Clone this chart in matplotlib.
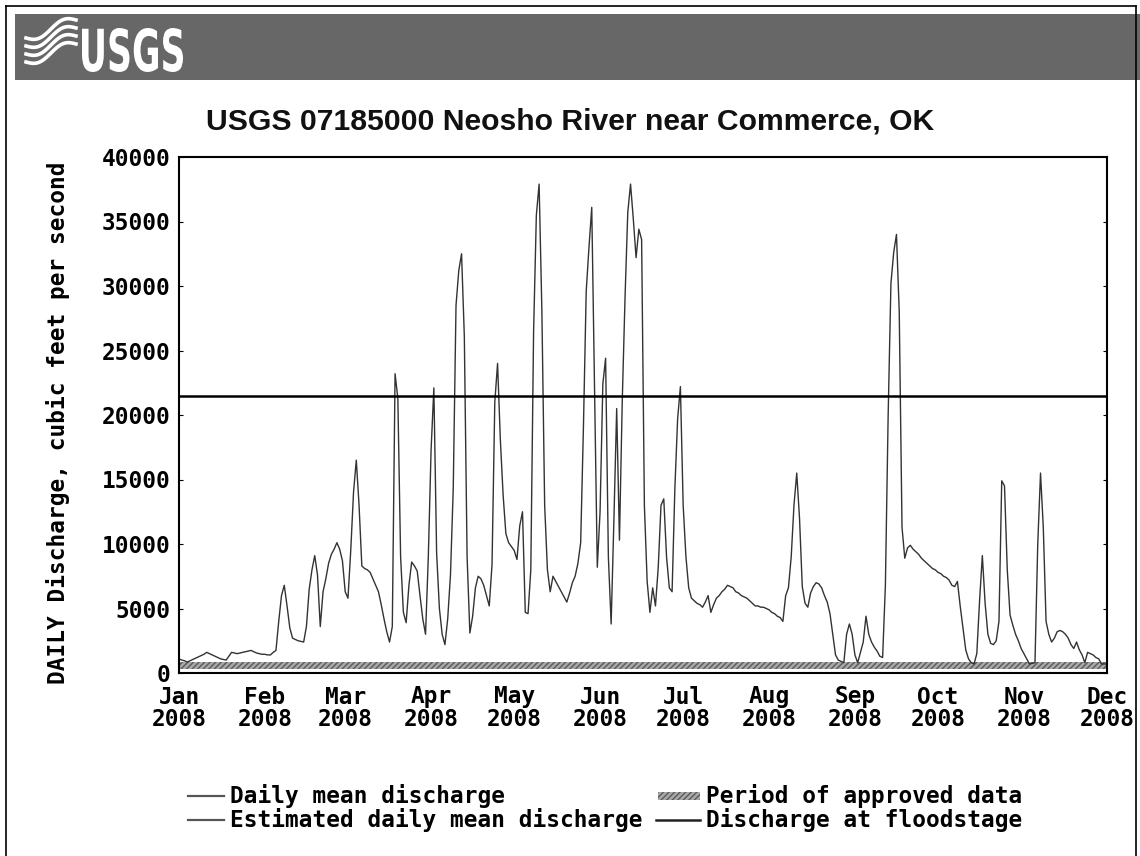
import matplotlib
matplotlib.use('Agg')
import matplotlib.pyplot as plt
import numpy as np
import pandas as pd
from matplotlib.lines import Line2D
from matplotlib.patches import Rectangle, PathPatch
from matplotlib.textpath import TextPath
from matplotlib.font_manager import FontProperties
from matplotlib.transforms import Affine2D

# daily mean discharge, cfs, 2008-01-01 .. 2008-12-01
jan = [1100, 1000, 950, 850, 950, 1050, 1150, 1250, 1350, 1450, 1600, 1500, 1400, 1300, 1200,
       1100, 1050, 1000, 1300, 1600, 1550, 1500, 1550, 1600, 1650, 1700, 1750, 1650, 1550, 1500, 1450]
feb = [1450, 1400, 1400, 1600, 1750, 4000, 6000, 6800, 5200, 3500, 2700, 2600, 2500, 2450, 2400,
       3600, 6500, 8000, 9100, 7600, 3600, 6300, 7300, 8500, 9200, 9600, 10100, 9600, 8700]
mar = [6300, 5800, 9500, 14000, 16500, 13000, 8300, 8100, 8000, 7800, 7300, 6800, 6300, 5300, 4200,
       3200, 2400, 3600, 23200, 21300, 9000, 4700, 3900, 6800, 8600, 8300, 7900, 6000, 4200, 3000, 9000]
apr = [17300, 22100, 9300, 5000, 3000, 2200, 4200, 7600, 14300, 28500, 31200, 32500, 26100, 9000, 3100,
       4400, 6600, 7500, 7300, 6800, 6000, 5200, 8400, 21000, 24000, 18100, 13800, 10800, 10100, 9800]
may = [9500, 8800, 11400, 12500, 4700, 4600, 8000, 26400, 35500, 37900, 28000, 13000, 8000, 6300, 7500,
       7100, 6700, 6300, 5900, 5500, 6200, 7000, 7500, 8500, 10100, 19100, 29600, 33000, 36100, 22400, 8200]
jun = [12500, 22400, 24400, 9000, 3800, 11900, 20500, 10300, 21000, 29000, 35700, 37900, 35200, 32200, 34400,
       33600, 13000, 7100, 4700, 6600, 5200, 8200, 13000, 13500, 9000, 6600, 6300, 14300, 19700, 22200]
jul = [13000, 9000, 6600, 5800, 5600, 5400, 5300, 5100, 5500, 6000, 4700, 5300, 5800, 6000, 6300,
       6500, 6800, 6700, 6600, 6300, 6200, 6000, 5900, 5800, 5600, 5400, 5200, 5200, 5100, 5100, 5000]
aug = [4900, 4700, 4600, 4400, 4300, 4000, 6000, 6600, 9000, 13000, 15500, 12000, 6700, 5400, 5100,
       6200, 6700, 7000, 6900, 6600, 6000, 5500, 4600, 3000, 1400, 1000, 900, 800, 3000, 3800, 3000]
sep = [1400, 800, 1600, 2400, 4400, 3000, 2400, 2000, 1700, 1300, 1200, 6800, 20000, 30200, 32600,
       34000, 28000, 11300, 8900, 9700, 9900, 9600, 9400, 9200, 8900, 8700, 8500, 8300, 8100, 8000]
oct_ = [7800, 7700, 7500, 7400, 7200, 6800, 6700, 7100, 5200, 3500, 1800, 1100, 800, 700, 1500,
        5600, 9100, 5400, 3000, 2300, 2200, 2500, 4000, 14900, 14500, 8000, 4500, 3700, 3000, 2500, 1900]
nov = [1500, 1100, 700, 750, 800, 10000, 15500, 11300, 4000, 3000, 2400, 2700, 3200, 3300, 3200,
       3000, 2700, 2200, 1900, 2400, 1800, 1400, 800, 1600, 1500, 1400, 1200, 1100, 700, 700]
dec = [700]

discharge = jan + feb + mar + apr + may + jun + jul + aug + sep + oct_ + nov + dec
dates = pd.date_range('2008-01-01', periods=len(discharge), freq='D')

floodstage = 21500
approved_start = '2008-01-01'
approved_end = '2008-12-01'
approved_lo, approved_hi = 300, 850

month_ticks = pd.date_range('2008-01-01', '2008-12-01', freq='MS')
tick_labels = [d.strftime('%b') + '\n' + d.strftime('%Y') for d in month_ticks]
y_ticks = [0, 5000, 10000, 15000, 20000, 25000, 30000, 35000, 40000]

title = 'USGS 07185000 Neosho River near Commerce, OK'
ylabel = 'DAILY Discharge, cubic feet per second'
legend_left = ['Daily mean discharge', 'Estimated daily mean discharge']
legend_right = ['Period of approved data', 'Discharge at floodstage']

W, H = 1140, 856
fig = plt.figure(figsize=(W / 100, H / 100), dpi=100)
fig.patch.set_facecolor('white')


def fx(px):
    return px / W


def fy(py):
    return 1 - py / H


mono = dict(family='DejaVu Sans Mono', fontweight='bold')
fs = 16.4

# rand und kopfbalken
fig.add_artist(Line2D([fx(6), fx(6)], [fy(6), fy(856)], color='black', lw=1.2))
fig.add_artist(Line2D([fx(6), fx(1136)], [fy(6), fy(6)], color='black', lw=1.2))
fig.add_artist(Line2D([fx(1136), fx(1136)], [fy(6), fy(856)], color='black', lw=1.2))
fig.add_artist(Rectangle((fx(15), fy(80)), fx(1140) - fx(15), (80 - 14) / H,
                         transform=fig.transFigure, facecolor='#676767', edgecolor='none'))

# USGS logo
tp = TextPath((0, 0), 'USGS', size=100,
              prop=FontProperties(family='Liberation Sans Narrow', weight='bold'))
bb = tp.get_extents()
tr = (Affine2D().translate(-bb.x0, -bb.y0)
      .scale((183 - 82) / bb.width, (72 - 28) / bb.height)
      .translate(82, H - 72).scale(1 / W, 1 / H))
fig.add_artist(PathPatch(tr.transform_path(tp), facecolor='white', edgecolor='none',
                         transform=fig.transFigure))
t = np.linspace(0, 1, 40)
for k in range(4):
    xs = 26 + 50 * t
    ys = 62 - 8 * k - 18 * t + 5 * np.sin(2 * np.pi * t)
    fig.add_artist(Line2D(fx(xs), fy(ys), color='white', lw=2.6))

fig.text(fx(570), fy(122), title, ha='center', va='center', fontsize=21.7,
         fontweight='bold', family='Liberation Sans', color='#111111')

ax = fig.add_axes([fx(179), fy(673), fx(1107) - fx(179), (673 - 157) / H])
ax.fill_between([pd.Timestamp(approved_start), pd.Timestamp(approved_end)], approved_lo, approved_hi,
                facecolor='#a8a8a8', edgecolor='#5a5a5a', hatch='//////', lw=0)
ax.plot(dates, discharge, color='#333333', lw=1.0)
ax.axhline(floodstage, color='black', lw=1.8)
ax.set_xlim(pd.Timestamp('2008-01-01'), pd.Timestamp('2008-12-01'))
ax.set_ylim(0, 40000)
for s in ax.spines.values():
    s.set_linewidth(1.5)
    s.set_color('black')

ax.set_xticks(month_ticks)
ax.set_xticklabels(tick_labels, fontsize=fs, linespacing=0.95, **mono)
ax.set_yticks(y_ticks)
ax.set_yticklabels([str(v) for v in y_ticks], fontsize=fs, **mono)
ax.tick_params(axis='x', length=0, pad=9)
ax.tick_params(axis='y', length=3, direction='in', pad=6, right=True)

fig.text(fx(58), fy(423), ylabel, rotation=90, ha='center', va='center', fontsize=fs, **mono)

# legende
rows = [796, 820]
for txt, y in zip(legend_left, rows):
    fig.add_artist(Line2D([fx(188), fx(224)], [fy(y), fy(y)], color='#555555', lw=1.6))
    fig.text(fx(230), fy(y), txt, ha='left', va='center', fontsize=fs, **mono)

for i, (txt, y) in enumerate(zip(legend_right, rows)):
    fig.text(fx(706), fy(y), txt, ha='left', va='center', fontsize=fs, **mono)
    if i == 0:
        fig.add_artist(Rectangle((fx(658), fy(y + 4)), 42 / W, 8 / H, transform=fig.transFigure,
                                 facecolor='#a8a8a8', edgecolor='#5a5a5a', hatch='//////', lw=0))
    else:
        fig.add_artist(Line2D([fx(656), fx(700)], [fy(y), fy(y)], color='#222222', lw=1.8))

fig.savefig('out.png', dpi=100)
